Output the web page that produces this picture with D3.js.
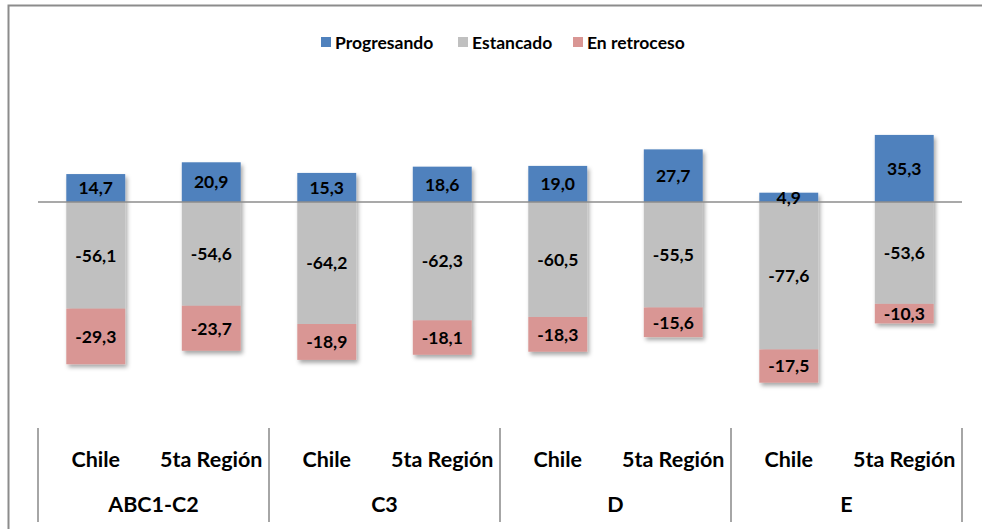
<!DOCTYPE html>
<html><head><meta charset="utf-8">
<script src="https://cdn.jsdelivr.net/npm/d3@7"></script>
<style>body{margin:0;background:#fff}svg{display:block}</style>
</head><body>
<script>
const groups = ["ABC1-C2","C3","D","E"];
const places = ["Chile","5ta Región"];
const progresando = [14.7,20.9,15.3,18.6,19.0,27.7,4.9,35.3];
const estancado   = [-56.1,-54.6,-64.2,-62.3,-60.5,-55.5,-77.6,-53.6];
const retroceso   = [-29.3,-23.7,-18.9,-18.1,-18.3,-15.6,-17.5,-10.3];
const seriesNames = ["Progresando","Estancado","En retroceso"];
const colors = ["#4F81BD","#C0C0C0","#D99694"];

const W=982,H=529;
const svg=d3.select("body").append("svg").attr("width",W).attr("height",H);
const font="Lato, 'Open Sans', sans-serif";

const defs=svg.append("defs");
const f=defs.append("filter").attr("id","sh").attr("x","-20%").attr("y","-20%").attr("width","150%").attr("height","150%");
f.append("feDropShadow").attr("dx",2).attr("dy",3).attr("stdDeviation",2).attr("flood-color","#000").attr("flood-opacity",0.35);

// outer border
svg.append("path").attr("d","M8.5,"+H+" V5.5 H"+W).attr("fill","none").attr("stroke","#8c8c8c").attr("stroke-width",2);

const cats=[];groups.forEach(g=>places.forEach(p=>cats.push(g+"|"+p)));
const x=d3.scaleBand().domain(cats).range([38,962]).paddingInner(0.49).paddingOuter(0.245);
const y=d3.scaleLinear().domain([-100,40]).range([392,126]);

// legend
const leg=svg.append("g").attr("font-family",font).attr("font-weight","bold").attr("font-size",17.5);
const legX=[321,458,573];
seriesNames.forEach((s,i)=>{
  leg.append("rect").attr("x",legX[i]).attr("y",37).attr("width",10).attr("height",10).attr("fill",colors[i]);
  leg.append("text").attr("x",legX[i]+14).attr("y",48.5).text(s).attr("fill","#000");
});

// stacked segments
const segs=[];
cats.forEach((c,i)=>{
  segs.push({c,s:0,y0:0,y1:progresando[i],v:progresando[i]});
  segs.push({c,s:1,y0:0,y1:estancado[i],v:estancado[i]});
  segs.push({c,s:2,y0:estancado[i],y1:estancado[i]+retroceso[i],v:retroceso[i]});
});
const g=svg.append("g");
cats.forEach(c=>{
  const sg=g.append("g").attr("filter","url(#sh)");
  segs.filter(d=>d.c===c).forEach(d=>{
    sg.append("rect").attr("x",x(c)).attr("width",x.bandwidth())
      .attr("y",y(Math.max(d.y0,d.y1))).attr("height",Math.abs(y(d.y0)-y(d.y1))).attr("fill",colors[d.s]);
  });
});
// zero line
svg.append("line").attr("x1",38).attr("x2",962).attr("y1",y(0)).attr("y2",y(0)).attr("stroke","#8c8c8c").attr("stroke-width",1.5);
// labels
const fmt=v=>d3.format(".1f")(v).replace(".",",").replace("−","-");
svg.append("g").selectAll("text").data(segs).join("text")
  .attr("x",d=>x(d.c)+x.bandwidth()/2)
  .attr("y",d=>(y(d.y0)+y(d.y1))/2)
  .attr("dy","0.36em").attr("text-anchor","middle")
  .attr("font-family",font).attr("font-weight","bold").attr("font-size",17.5)
  .text(d=>fmt(d.v));

// category axis
const ax=svg.append("g").attr("font-family",font).attr("font-weight","bold").attr("font-size",21.5);
const step=(962-38)/groups.length;
for(let i=0;i<=groups.length;i++){
  ax.append("line").attr("x1",38+i*step).attr("x2",38+i*step).attr("y1",428).attr("y2",522).attr("stroke","#a6a6a6").attr("stroke-width",2);
}
cats.forEach(c=>{
  const p=c.split("|")[1];
  ax.append("text").attr("x",x(c)+x.bandwidth()/2).attr("y",467).attr("text-anchor","middle").text(p);
});
groups.forEach((gname,i)=>{
  ax.append("text").attr("x",38+i*step+step/2).attr("y",512).attr("text-anchor","middle").text(gname);
});
</script>
</body></html>
